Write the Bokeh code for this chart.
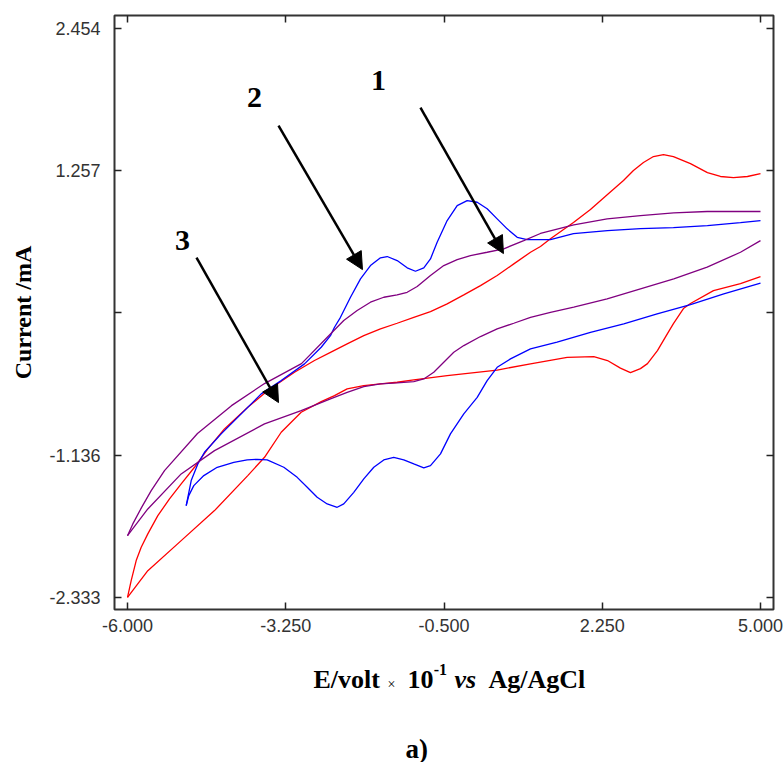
from bokeh.plotting import figure
from bokeh.layouts import column
from bokeh.models import (FixedTicker, LinearAxis, Label, Arrow, NormalHead, Range1d)
from bokeh.embed import file_html
from bokeh.resources import INLINE

# ---- data (E / V x10^-1, current / mA) ----
# curve 1 (red): forward and reverse branches
red_fwd_x = [-6.000, -5.936, -5.849, -5.762, -5.647, -5.473, -5.270, -5.067, -4.836, -4.605,
             -4.315, -3.910, -3.562, -3.098, -2.751, -2.473, -2.183, -1.894, -1.604, -1.314,
             -1.025, -0.735, -0.445, -0.156, 0.134, 0.424, 0.713, 1.003, 1.176, 1.350,
             1.750, 2.045, 2.341, 2.619, 2.792, 2.966, 3.140, 3.314, 3.487, 3.783,
             4.078, 4.304, 4.530, 4.773, 5.000]
red_fwd_y = [-2.335, -2.194, -2.025, -1.913, -1.800, -1.646, -1.506, -1.379, -1.239, -1.084,
             -0.916, -0.734, -0.593, -0.439, -0.340, -0.271, -0.200, -0.130, -0.073, -0.026,
             0.024, 0.072, 0.137, 0.213, 0.291, 0.376, 0.474, 0.572, 0.620, 0.685,
             0.822, 0.932, 1.058, 1.176, 1.260, 1.328, 1.378, 1.395, 1.378, 1.319,
             1.243, 1.210, 1.201, 1.210, 1.235]
red_rev_x = [5.000, 4.652, 4.183, 3.783, 3.661, 3.487, 3.383, 3.209, 3.036, 2.914,
             2.740, 2.566, 2.341, 2.103, 1.640, 1.003, 0.424, -0.445, -1.025, -1.314,
             -1.604, -1.894, -2.183, -2.403, -2.634, -2.982, -3.329, -3.619, -3.910, -4.488,
             -5.067, -5.647, -6.000]
red_rev_y = [0.367, 0.308, 0.249, 0.140, 0.098, -0.029, -0.113, -0.256, -0.366, -0.408,
             -0.442, -0.404, -0.340, -0.307, -0.313, -0.368, -0.420, -0.467, -0.503, -0.523,
             -0.537, -0.551, -0.579, -0.635, -0.686, -0.776, -0.944, -1.155, -1.309, -1.604,
             -1.857, -2.110, -2.335]

# curve 2 (blue)
blue_fwd_x = [-4.980, -4.893, -4.778, -4.662, -4.372, -4.024, -3.677, -3.329, -2.924, -2.634,
              -2.473, -2.403, -2.299, -2.125, -1.951, -1.778, -1.604, -1.487, -1.314, -1.140,
              -0.996, -0.851, -0.735, -0.619, -0.445, -0.271, -0.097, 0.077, 0.250, 0.424,
              0.598, 0.772, 0.945, 1.350, 1.750, 2.341, 2.914, 3.487, 4.078, 4.652, 5.000]
blue_fwd_y = [-1.562, -1.351, -1.211, -1.113, -0.958, -0.789, -0.621, -0.509, -0.368, -0.228,
              -0.130, -0.060, 0.024, 0.193, 0.348, 0.460, 0.525, 0.536, 0.502, 0.441,
              0.412, 0.441, 0.516, 0.656, 0.839, 0.965, 1.007, 0.993, 0.938, 0.853,
              0.769, 0.698, 0.679, 0.679, 0.729, 0.754, 0.771, 0.780, 0.796, 0.822, 0.839]
blue_rev_x = [5.000, 4.362, 3.783, 3.204, 2.624, 2.045, 1.465, 1.003, 0.655, 0.424,
              0.250, 0.077, -0.156, -0.388, -0.561, -0.735, -0.851, -1.025, -1.199, -1.373,
              -1.547, -1.720, -1.894, -2.068, -2.242, -2.356, -2.530, -2.704, -2.877, -3.051,
              -3.284, -3.573, -3.746, -3.920, -4.153, -4.441, -4.674, -4.848, -4.935, -4.980]
blue_rev_y = [0.311, 0.221, 0.131, 0.053, -0.031, -0.102, -0.186, -0.242, -0.326, -0.397,
              -0.509, -0.650, -0.789, -0.958, -1.126, -1.225, -1.244, -1.211, -1.177, -1.155,
              -1.177, -1.239, -1.337, -1.450, -1.548, -1.576, -1.548, -1.492, -1.408, -1.324,
              -1.239, -1.177, -1.172, -1.177, -1.197, -1.239, -1.309, -1.394, -1.478, -1.562]

# curve 3 (purple)
purple_fwd_x = [-6.000, -5.908, -5.757, -5.588, -5.357, -4.784, -4.193, -3.619, -2.977, -2.473,
                -2.242, -2.009, -1.778, -1.546, -1.314, -1.140, -0.966, -0.735, -0.504, -0.271,
                -0.040, 0.250, 0.539, 0.886, 1.176, 1.755, 2.335, 2.914, 3.493, 4.073, 5.000]
purple_fwd_y = [-1.815, -1.716, -1.579, -1.436, -1.267, -0.955, -0.720, -0.534, -0.366, -0.116,
                -0.003, 0.081, 0.151, 0.193, 0.213, 0.235, 0.283, 0.376, 0.460, 0.510,
                0.544, 0.572, 0.601, 0.670, 0.730, 0.803, 0.853, 0.881, 0.904, 0.915, 0.915]
purple_rev_x = [5.000, 4.652, 4.073, 3.493, 2.914, 2.335, 1.755, 1.350, 1.003, 0.713,
                0.424, 0.134, -0.156, -0.330, -0.504, -0.678, -0.851, -1.025, -1.314, -1.604,
                -1.894, -2.183, -2.473, -2.982, -3.619, -4.488, -5.067, -5.647, -6.000]
purple_rev_y = [0.670, 0.572, 0.446, 0.348, 0.264, 0.179, 0.109, 0.066, 0.024, -0.026,
                -0.073, -0.138, -0.214, -0.271, -0.355, -0.439, -0.495, -0.517, -0.528, -0.537,
                -0.559, -0.608, -0.663, -0.762, -0.874, -1.099, -1.295, -1.590, -1.815]

x_ticks = [-6.0, -3.25, -0.5, 2.25, 5.0]
x_tick_labels = ["-6.000", "-3.250", "-0.500", "2.250", "5.000"]
y_ticks = [-2.333, -1.136, 0.0605, 1.257, 2.454]
y_tick_labels = ["-2.333", "-1.136", "", "1.257", "2.454"]

# annotation positions (data units)
arrows = [(-0.909, 1.791, 0.533, 0.561),    # 1
          (-3.376, 1.639, -1.917, 0.426),   # 2
          (-4.801, 0.527, -3.376, -0.694)]  # 3
arrow_labels = [("1", -1.639, 2.018), ("2", -3.793, 1.875), ("3", -5.044, 0.669)]

serif = "Liberation Serif"

p = figure(width=784, height=650, output_backend="svg", toolbar_location=None,
           x_range=Range1d(-6.226, 5.226), y_range=Range1d(-2.437, 2.566),
           min_border_left=114, min_border_right=11, min_border_top=15,
           min_border_bottom=41)
p.background_fill_color = "white"
p.border_fill_color = "white"
p.xgrid.visible = False
p.ygrid.visible = False
p.outline_line_color = "#333333"
p.outline_line_width = 2

for fx, fy, rx, ry, col in [(red_fwd_x, red_fwd_y, red_rev_x, red_rev_y, "#ff0000"),
                            (blue_fwd_x, blue_fwd_y, blue_rev_x, blue_rev_y, "#0000ff"),
                            (purple_fwd_x, purple_fwd_y, purple_rev_x, purple_rev_y, "#800080")]:
    p.line(fx, fy, line_color=col, line_width=1.3)
    p.line(rx, ry, line_color=col, line_width=1.3)

def style_axis(ax, ticks, labels, show_labels=True):
    ax.ticker = FixedTicker(ticks=ticks)
    ax.major_label_overrides = {t: l for t, l in zip(ticks, labels)}
    ax.axis_line_color = None
    ax.major_tick_in = 7
    ax.major_tick_out = 0
    ax.major_tick_line_color = "#222222"
    ax.major_tick_line_width = 1.5
    ax.minor_tick_line_color = None
    ax.major_label_text_font = "Liberation Sans"
    ax.major_label_text_font_size = "18px" if show_labels else "0px"
    ax.major_label_text_color = "#333333"
    if not show_labels:
        ax.major_label_standoff = 0

style_axis(p.xaxis[0], x_ticks, x_tick_labels)
p.xaxis[0].major_label_standoff = 9
style_axis(p.yaxis[0], y_ticks, y_tick_labels)
p.yaxis[0].major_label_standoff = 14
p.yaxis[0].axis_label = "Current /mA"
p.yaxis[0].axis_label_text_font = serif
p.yaxis[0].axis_label_text_font_size = "24px"
p.yaxis[0].axis_label_text_font_style = "bold"
p.yaxis[0].axis_label_text_color = "black"
p.yaxis[0].axis_label_standoff = 10

top_axis = LinearAxis()
style_axis(top_axis, x_ticks, [""] * len(x_ticks), show_labels=False)
p.add_layout(top_axis, "above")
right_axis = LinearAxis()
style_axis(right_axis, y_ticks, [""] * len(y_ticks), show_labels=False)
p.add_layout(right_axis, "right")

for xs, ys, xe, ye in arrows:
    p.add_layout(Arrow(x_start=xs, y_start=ys, x_end=xe, y_end=ye, line_width=2.5,
                       line_color="black",
                       end=NormalHead(size=17, fill_color="black", line_color="black")))

for txt, lx, ly in arrow_labels:
    p.add_layout(Label(x=lx, y=ly, text=txt, text_font=serif, text_font_size="30px",
                       text_font_style="bold", text_color="black", text_align="center",
                       text_baseline="alphabetic"))

# ---- lower strip: x-axis title and panel tag (x shares the chart's E scale,
#      y in pixels from the top of the strip) ----
p2 = figure(width=784, height=112, output_backend="svg", toolbar_location=None,
            x_range=p.x_range, y_range=Range1d(112, 0), min_border=0,
            x_axis_location=None, y_axis_location=None)
p2.xgrid.visible = False
p2.ygrid.visible = False
p2.outline_line_color = None
p2.background_fill_color = "white"
p2.border_fill_color = "white"

base = 29
pieces = [("E/volt", -2.768, base, "26px", "bold"),
          ("\u00d7", -1.480, base + 5, "14px", "normal"),
          ("10", -1.135, base, "26px", "bold"),
          ("-1", -0.680, base - 10, "16px", "bold"),
          ("vs", -0.318, base, "26px", "bold italic"),
          ("Ag/AgCl", 0.273, base, "26px", "bold")]
for txt, lx, ly, fs, st in pieces:
    p2.add_layout(Label(x=lx, y=ly, text=txt, text_font=serif, text_font_size=fs,
                        text_font_style=st, text_color="black", text_align="left",
                        text_baseline="alphabetic"))

p2.add_layout(Label(x=-1.170, y=98, text="a)", text_font=serif, text_font_size="27px",
                    text_font_style="bold", text_color="black", text_align="left",
                    text_baseline="alphabetic"))

open("out.html", "w").write(file_html(column(p, p2), INLINE))
